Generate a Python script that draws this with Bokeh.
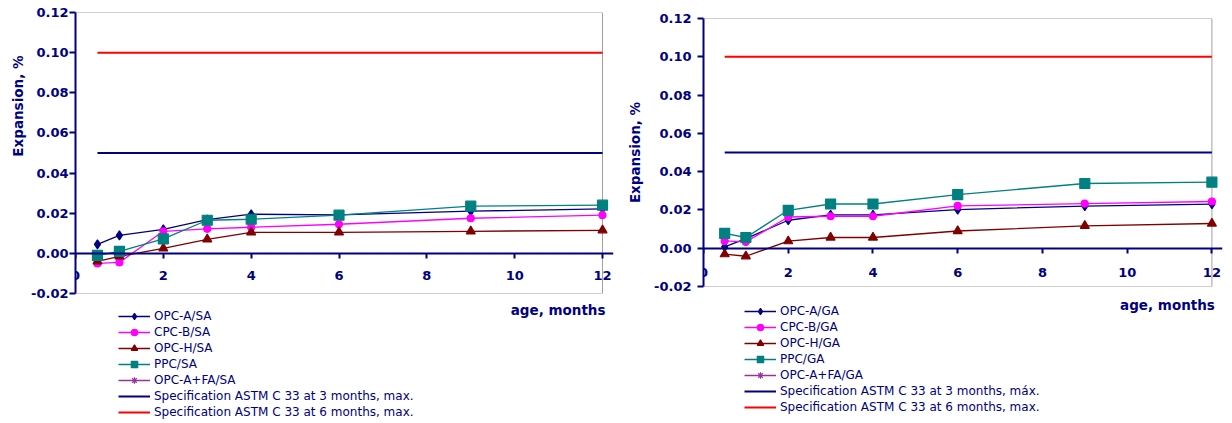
from bokeh.plotting import figure
from bokeh.models import (Range1d, LinearAxis, FixedTicker, NumeralTickFormatter,
                          Legend, LegendItem, Label, ColumnDataSource, Title)
from bokeh.layouts import row, column
from bokeh.embed import file_html
from bokeh.resources import INLINE

# ---------------- data ----------------
ages = [0.5, 1, 2, 3, 4, 6, 9, 12]

sa_opc_a = [0.0045, 0.0090, 0.0120, 0.0168, 0.0195, 0.0192, 0.0210, 0.0222]
sa_cpc_b = [-0.0050, -0.0045, 0.0110, 0.0122, 0.0130, 0.0145, 0.0175, 0.0190]
sa_opc_h = [-0.0040, -0.0015, 0.0025, 0.0070, 0.0105, 0.0105, 0.0110, 0.0115]
sa_ppc = [-0.0010, 0.0010, 0.0072, 0.0165, 0.0170, 0.0190, 0.0235, 0.0240]
sa_opc_a_fa = []

ga_opc_a = [0.0007, 0.0050, 0.0146, 0.0174, 0.0174, 0.0202, 0.0220, 0.0230]
ga_cpc_b = [0.0038, 0.0033, 0.0163, 0.0167, 0.0167, 0.0221, 0.0233, 0.0244]
ga_opc_h = [-0.0031, -0.0042, 0.0037, 0.0056, 0.0056, 0.0090, 0.0117, 0.0129]
ga_ppc = [0.0077, 0.0056, 0.0198, 0.0231, 0.0231, 0.0280, 0.0338, 0.0345]
ga_opc_a_fa = []

spec_x = [0.5, 12]
spec_3m = [0.05, 0.05]
spec_6m = [0.10, 0.10]

x_min, x_max = 0, 12
y_min, y_max = -0.02, 0.12
x_ticks = [0, 2, 4, 6, 8, 10, 12]
y_ticks = [-0.02, 0.0, 0.02, 0.04, 0.06, 0.08, 0.10, 0.12]

sa_labels = ["OPC-A/SA", "CPC-B/SA", "OPC-H/SA", "PPC/SA", "OPC-A+FA/SA",
             "Specification ASTM C 33 at 3 months, max.",
             "Specification ASTM C 33 at 6 months, max."]
ga_labels = ["OPC-A/GA", "CPC-B/GA", "OPC-H/GA", "PPC/GA", "OPC-A+FA/GA",
             "Specification ASTM C 33 at 3 months, máx.",
             "Specification ASTM C 33 at 6 months, max."]

x_title = "age, months"
y_title = "Expansion, %"

NAVY = "#000080"
RED = "#FF0000"
FONT = "DejaVu Sans"

styles = [
    dict(color=NAVY, marker="diamond", size=9),
    dict(color="#FF00FF", marker="circle", size=7),
    dict(color="#800000", marker="triangle", size=9),
    dict(color="#008080", marker="square", size=10),
    dict(color="#993399", marker="asterisk", size=8),
]


def style_axis(ax, tick_out, standoff):
    ax.axis_line_color = NAVY
    ax.axis_line_width = 2
    ax.major_tick_line_color = NAVY
    ax.major_tick_line_width = 2
    ax.major_tick_out = tick_out
    ax.major_tick_in = 0
    ax.minor_tick_line_color = None
    ax.major_label_text_font = FONT
    ax.major_label_text_font_style = "bold"
    ax.major_label_text_font_size = "13px"
    ax.major_label_text_color = NAVY
    ax.major_label_standoff = standoff


def make_panel(series, labels, width, border_left, border_right, border_top, frame_h,
               lbl_standoff, title_align, title_offset, title_standoff, xlbl_standoff,
               bottom_h, legend_loc, xlabel_y):
    top_h = border_top + frame_h + 8
    p = figure(width=width, height=top_h, output_backend="svg", toolbar_location=None,
               x_range=Range1d(x_min, x_max + 0.25), y_range=Range1d(y_min, y_max),
               x_axis_location=None, y_axis_location=None,
               min_border_left=border_left, min_border_top=border_top,
               min_border_bottom=8, min_border_right=border_right)
    p.xgrid.visible = False
    p.ygrid.visible = False
    p.outline_line_color = None
    p.background_fill_color = "white"
    p.border_fill_color = "white"

    yaxis = LinearAxis(ticker=FixedTicker(ticks=y_ticks),
                       formatter=NumeralTickFormatter(format="0.00"))
    style_axis(yaxis, 6, lbl_standoff)
    p.add_layout(yaxis, "left")

    ytitle = Title(text=y_title, align=title_align, offset=title_offset,
                   standoff=title_standoff, text_font=FONT, text_font_style="bold",
                   text_font_size="13.5px", text_color=NAVY)
    p.add_layout(ytitle, "left")

    # plot-area border (top, right, bottom) along the axis limits
    p.line([x_min, x_max, x_max, x_min], [y_max, y_max, y_min, y_min],
           line_color="#A0A0A0", line_width=1)

    xaxis = LinearAxis(ticker=FixedTicker(ticks=x_ticks), fixed_location=0)
    style_axis(xaxis, 5, xlbl_standoff)
    p.add_layout(xaxis, "below")

    # legend / label strip below (frame aligned with the plot's frame)
    q = figure(width=width, height=bottom_h, output_backend="svg", toolbar_location=None,
               x_range=Range1d(x_min, x_max + 0.25), y_range=Range1d(0, bottom_h),
               x_axis_location=None, y_axis_location=None,
               min_border=0)
    q.xgrid.visible = False
    q.ygrid.visible = False
    q.outline_line_color = None
    q.background_fill_color = "white"
    q.border_fill_color = "white"

    items = []
    for vals, st, lab in zip(series, styles, labels[:5]):
        xs = ages[:len(vals)]
        src = ColumnDataSource(dict(x=xs, y=vals))
        p.line("x", "y", source=src, line_color=st["color"], line_width=1.3)
        p.scatter("x", "y", source=src, marker=st["marker"], size=st["size"],
                  fill_color=st["color"], line_color=st["color"], line_width=1.2)
        # legend proxies (hidden on the strip)
        lsrc = ColumnDataSource(dict(x=ages[:1], y=spec_3m[:1]))
        lr = q.line("x", "y", source=lsrc, line_color=st["color"], line_width=1.3,
                    visible=False)
        sr = q.scatter("x", "y", source=lsrc, marker=st["marker"], size=st["size"],
                       fill_color=st["color"], line_color=st["color"], line_width=1.2,
                       visible=False)
        items.append(LegendItem(label=lab, renderers=[lr, sr]))

    p.line(spec_x, spec_3m, line_color=NAVY, line_width=2)
    p.line(spec_x, spec_6m, line_color=RED, line_width=2)
    r3 = q.line(spec_x, spec_3m, line_color=NAVY, line_width=2, visible=False)
    r6 = q.line(spec_x, spec_6m, line_color=RED, line_width=2, visible=False)
    items.append(LegendItem(label=labels[5], renderers=[r3]))
    items.append(LegendItem(label=labels[6], renderers=[r6]))

    legend = Legend(items=items, location=legend_loc, orientation="vertical",
                    glyph_width=32, glyph_height=16, label_height=16, spacing=0,
                    padding=0, margin=0, border_line_color=None,
                    background_fill_alpha=0, label_standoff=4,
                    inactive_fill_alpha=0,
                    label_text_font=FONT, label_text_font_size="12px",
                    label_text_color=NAVY, click_policy="none")
    q.add_layout(legend)

    lab = Label(x=x_max, y=xlabel_y, x_offset=3, text=x_title, text_align="right",
                text_baseline="middle", text_font=FONT, text_font_style="bold",
                text_font_size="13.5px", text_color=NAVY)
    q.add_layout(lab)
    return column(p, q, spacing=0)


left = make_panel([sa_opc_a, sa_cpc_b, sa_opc_h, sa_ppc, sa_opc_a_fa], sa_labels,
                  width=616, border_left=75, border_right=3, border_top=12, frame_h=281,
                  lbl_standoff=1, title_align="right", title_offset=43,
                  title_standoff=6, xlbl_standoff=13,
                  bottom_h=122, legend_loc=(43, 3), xlabel_y=114)
right = make_panel([ga_opc_a, ga_cpc_b, ga_opc_h, ga_ppc, ga_opc_a_fa], ga_labels,
                   width=616, border_left=85, border_right=10, border_top=18, frame_h=268,
                   lbl_standoff=6, title_align="center", title_offset=0,
                   title_standoff=17, xlbl_standoff=15,
                   bottom_h=129, legend_loc=(41, 8), xlabel_y=119)

layout = row(left, right, spacing=0)
open("out.html", "w").write(file_html(layout, INLINE))
